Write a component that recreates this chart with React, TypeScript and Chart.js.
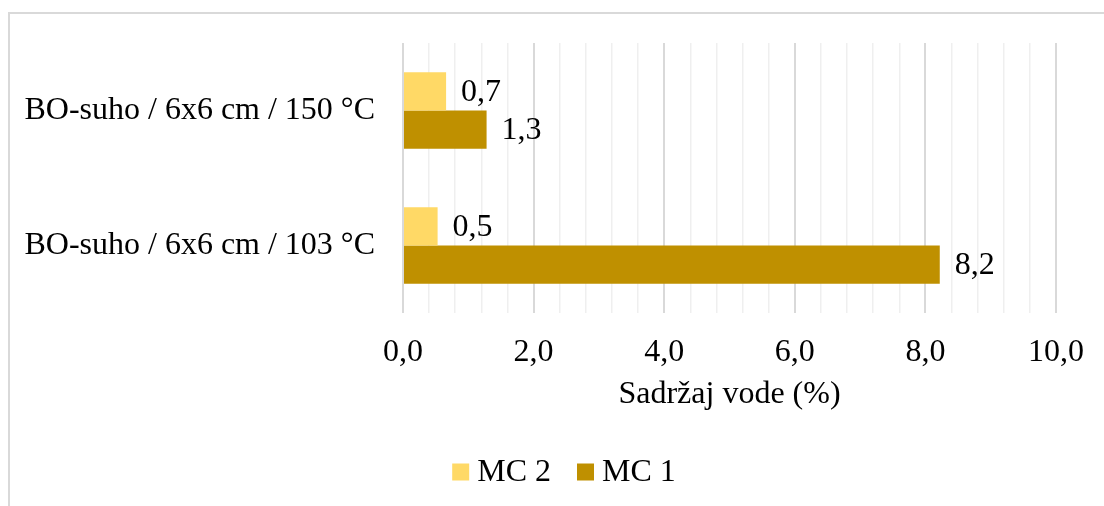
import React, { useEffect, useRef } from "react";
import { Chart, registerables } from "chart.js";

Chart.register(...registerables);

const categories = ["BO-suho / 6x6 cm / 150 °C", "BO-suho / 6x6 cm / 103 °C"];
const seriesNames = ["MC 2", "MC 1"];
const mc2Values = [0.66, 0.53];
const mc1Values = [1.28, 8.22];
const xMin = 0;
const xMax = 10;
const xMinorStep = 0.4;
const xMajorStep = 2;
const axisTitle = "Sadržaj vode (%)";

const FONT = '"Liberation Serif", "Times New Roman", serif';
const FS = 32;
const fmt = (v: number) => v.toFixed(1).replace(".", ",");
const isMajor = (v: number) => Math.abs(v / xMajorStep - Math.round(v / xMajorStep)) < 1e-6;

const valueLabels = {
  id: "valueLabels",
  afterDatasetsDraw(chart: any) {
    const ctx = chart.ctx;
    ctx.save();
    ctx.font = `${FS}px ${FONT}`;
    ctx.fillStyle = "#000";
    ctx.textAlign = "left";
    ctx.textBaseline = "middle";
    chart.data.datasets.forEach((ds: any, di: number) => {
      const meta = chart.getDatasetMeta(di);
      meta.data.forEach((el: any, i: number) => {
        ctx.fillText(fmt(ds.data[i]), el.x + 15, el.y + 1);
      });
    });
    ctx.restore();
  },
};

const customLegend = {
  id: "customLegend",
  afterDraw(chart: any) {
    const ctx = chart.ctx;
    ctx.save();
    ctx.font = `${FS}px ${FONT}`;
    const box = 17;
    const gap = 8;
    const itemGap = 26;
    const items = chart.data.datasets.map((ds: any) => ({
      text: ds.label,
      color: ds.backgroundColor,
      w: box + gap + ctx.measureText(ds.label).width,
    }));
    const total = items.reduce((a: number, it: any) => a + it.w, 0) + itemGap * (items.length - 1);
    const cx = 564;
    const cy = 472;
    let x = cx - total / 2;
    items.forEach((it: any) => {
      ctx.fillStyle = it.color;
      ctx.fillRect(x, cy - box / 2, box, box);
      ctx.fillStyle = "#000";
      ctx.textAlign = "left";
      ctx.textBaseline = "middle";
      ctx.fillText(it.text, x + box + gap, cy + 1);
      x += it.w + itemGap;
    });
    ctx.restore();
  },
};

export default function App() {
  const ref = useRef<HTMLCanvasElement | null>(null);
  useEffect(() => {
    if (!ref.current) return;
    const chart = new Chart(ref.current, {
      type: "bar",
      data: {
        labels: categories,
        datasets: [
          { label: seriesNames[0], data: mc2Values, backgroundColor: "#FFD966" },
          { label: seriesNames[1], data: mc1Values, backgroundColor: "#BF9000" },
        ],
      },
      options: {
        indexAxis: "y",
        animation: false,
        responsive: false,
        maintainAspectRatio: false,
        layout: { padding: { left: 0, right: 44, top: 43, bottom: 92 } },
        datasets: { bar: { barPercentage: 1, categoryPercentage: 0.565 } },
        plugins: {
          tooltip: { enabled: false },
          legend: { display: false },
        },
        scales: {
          x: {
            min: xMin,
            max: xMax,
            border: { display: false },
            grid: {
              drawTicks: false,
              color: (c: any) => (isMajor(c.tick.value) ? "#d9d9d9" : "#efefef"),
              lineWidth: (c: any) => (isMajor(c.tick.value) ? 2 : 1.5),
            },
            ticks: {
              stepSize: xMinorStep,
              autoSkip: false,
              maxRotation: 0,
              padding: 20,
              color: "#000",
              font: { family: FONT, size: FS },
              callback: (v: any) => (isMajor(Number(v)) ? fmt(Number(v)) : ""),
            },
            title: {
              display: true,
              text: axisTitle,
              color: "#000",
              font: { family: FONT, size: FS },
              padding: { top: 0, bottom: 0 },
            },
            afterFit: (s: any) => {
              s.height = 101;
            },
          },
          y: {
            border: { display: false },
            grid: { display: false, drawTicks: false },
            ticks: {
              padding: 28,
              color: "#000",
              font: { family: FONT, size: FS },
            },
            afterFit: (s: any) => {
              s.width = 403;
              s.paddingTop = 0;
              s.paddingBottom = 0;
            },
          },
        },
      },
      plugins: [valueLabels, customLegend],
    });
    return () => chart.destroy();
  }, []);
  return (
    <div style={{ position: "fixed", left: 0, top: 0, width: 1104, height: 506, background: "#fff" }}>
      <div
        style={{
          position: "absolute",
          left: 8,
          top: 12,
          width: 1200,
          height: 600,
          borderTop: "2px solid #d9d9d9",
          borderLeft: "2px solid #d9d9d9",
          boxSizing: "border-box",
        }}
      />
      <canvas ref={ref} width={1104} height={506} style={{ position: "absolute", left: 0, top: 0 }} />
    </div>
  );
}
